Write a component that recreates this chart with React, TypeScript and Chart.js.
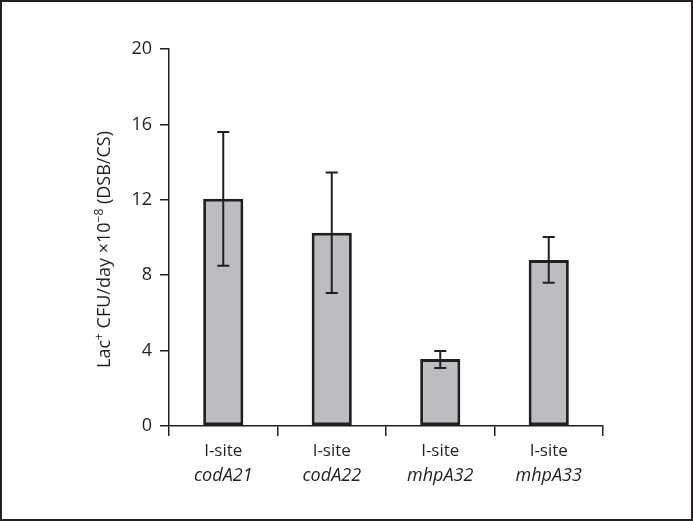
import React, { useEffect, useRef } from "react";
import { Chart, registerables } from "chart.js";

Chart.register(...registerables);

const siteLabels = ["I-site", "I-site", "I-site", "I-site"];
const geneLabels = ["codA21", "codA22", "mhpA32", "mhpA33"];
const means = [12.05, 10.25, 3.55, 8.8];
const errLow = [8.5, 7.05, 3.08, 7.6];
const errHigh = [15.6, 13.45, 3.98, 10.02];
const yTicks = [0, 4, 8, 12, 16, 20];
// y-axis title pieces: [text, isSuperscript]
const yTitleParts: [string, boolean][] = [
  ["Lac", false],
  ["+", true],
  [" CFU/day \u00D710", false],
  ["\u22128", true],
  [" (DSB/CS)", false],
];

const INK = "#231f20";
const FONT = "'Open Sans', 'Noto Sans', sans-serif";

const errorBarPlugin = {
  id: "errorBars",
  afterDatasetsDraw(chart: any) {
    const ctx = chart.ctx;
    const meta = chart.getDatasetMeta(0);
    const yScale = chart.scales.y;
    ctx.save();
    ctx.strokeStyle = INK;
    ctx.lineWidth = 2;
    meta.data.forEach((bar: any, i: number) => {
      const x = bar.x;
      const yLo = yScale.getPixelForValue(errLow[i]);
      const yHi = yScale.getPixelForValue(errHigh[i]);
      const cap = 6;
      ctx.beginPath();
      ctx.moveTo(x, yLo);
      ctx.lineTo(x, yHi);
      ctx.moveTo(x - cap, yHi);
      ctx.lineTo(x + cap, yHi);
      ctx.moveTo(x - cap, yLo);
      ctx.lineTo(x + cap, yLo);
      ctx.stroke();
    });
    ctx.restore();
  },
};

const yTitlePlugin = {
  id: "yTitle",
  afterDraw(chart: any) {
    const ctx = chart.ctx;
    const area = chart.chartArea;
    const mainFont = `18px ${FONT}`;
    const supFont = `12px ${FONT}`;
    ctx.save();
    // measure total width
    let total = 0;
    for (const [t, sup] of yTitleParts) {
      ctx.font = sup ? supFont : mainFont;
      total += ctx.measureText(t).width;
    }
    const cy = (area.top + area.bottom) / 2 + 12;
    const baseX = 110;
    ctx.translate(baseX, cy);
    ctx.rotate(-Math.PI / 2);
    ctx.fillStyle = INK;
    ctx.textBaseline = "alphabetic";
    ctx.textAlign = "left";
    let x = -total / 2;
    for (const [t, sup] of yTitleParts) {
      ctx.font = sup ? supFont : mainFont;
      ctx.fillText(t, x, sup ? -7 : 0);
      x += ctx.measureText(t).width;
    }
    ctx.restore();
  },
};

const framePlugin = {
  id: "frame",
  afterDraw(chart: any) {
    const ctx = chart.ctx;
    ctx.save();
    ctx.strokeStyle = INK;
    ctx.lineWidth = 2;
    ctx.strokeRect(1, 1, chart.width - 2, chart.height - 2);
    ctx.restore();
  },
};

export default function App() {
  const ref = useRef<HTMLCanvasElement | null>(null);

  useEffect(() => {
    if (!ref.current) return;
    const chart = new Chart(ref.current, {
      type: "bar",
      data: {
        labels: siteLabels,
        datasets: [
          {
            data: means,
            backgroundColor: "#bcbdc0",
            borderColor: INK,
            borderWidth: 3,
            borderSkipped: false,
            barPercentage: 0.37,
            categoryPercentage: 1,
            xAxisID: "x",
            yAxisID: "y",
          },
        ],
      },
      options: {
        animation: false,
        responsive: false,
        maintainAspectRatio: false,
        layout: { padding: { left: 0, top: 49, right: 90, bottom: 31 } },
        plugins: {
          legend: { display: false },
          tooltip: { enabled: false },
        },
        scales: {
          x: {
            type: "category",
            position: "bottom",
            labels: siteLabels,
            grid: {
              display: true,
              offset: true,
              drawOnChartArea: false,
              drawTicks: true,
              tickLength: 10,
              color: INK,
              lineWidth: 1.5,
            },
            border: { display: true, color: INK, width: 1.5 },
            ticks: {
              color: INK,
              font: { family: FONT, size: 17 },
              padding: 5,
              maxRotation: 0,
              autoSkip: false,
            },
            afterFit: (s: any) => {
              s.height = 34;
            },
          },
          x2: {
            type: "category",
            position: "bottom",
            labels: geneLabels,
            offset: true,
            grid: { display: false, drawTicks: false },
            border: { display: false },
            ticks: {
              color: INK,
              font: { family: FONT, size: 18, style: "italic" },
              padding: 5,
              maxRotation: 0,
              autoSkip: false,
            },
            afterFit: (s: any) => {
              s.height = 30;
            },
          },
          y: {
            min: 0,
            max: 20,
            afterBuildTicks: (s: any) => {
              s.ticks = yTicks.map((v) => ({ value: v }));
            },
            grid: {
              display: true,
              drawOnChartArea: false,
              drawTicks: true,
              tickLength: 9,
              color: INK,
              lineWidth: 1.5,
            },
            border: { display: true, color: INK, width: 1.5 },
            ticks: {
              color: INK,
              font: { family: FONT, size: 18 },
              padding: 8,
            },
            title: { display: false },
            afterFit: (s: any) => {
              s.width = 169;
            },
          },
        },
      },
      plugins: [errorBarPlugin, yTitlePlugin, framePlugin],
    });
    return () => chart.destroy();
  }, []);

  return (
    <div style={{ position: "fixed", left: 0, top: 0, width: 693, height: 521, background: "#fff" }}>
      <canvas ref={ref} width={693} height={521} style={{ display: "block", width: 693, height: 521 }} />
    </div>
  );
}
